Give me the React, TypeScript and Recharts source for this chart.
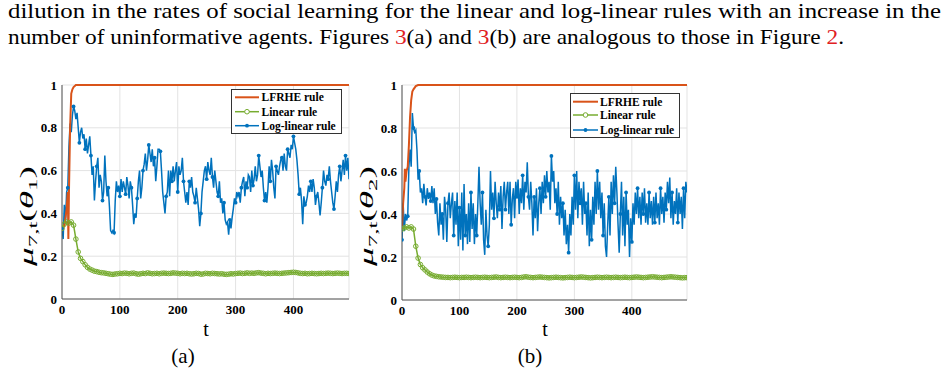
import React from 'react';
import { LineChart, Line, XAxis, YAxis, CartesianGrid } from 'recharts';

// ---------- axes ----------
const X_TICKS = [0, 100, 200, 300, 400];
const Y_TICKS = [0, 0.2, 0.4, 0.6, 0.8, 1];
const T_MAX = 496;
const LOG_STEP = 2; // t spacing of log-linear samples
const LIN_STEP = 4; // t spacing of linear samples

const SERIES_NAMES = ['LFRHE rule', 'Linear rule', 'Log-linear rule'];
const COLORS = { lfrhe: '#D95319', linear: '#77AC30', loglin: '#0072BD' };

// ---------- panel (a) ----------
const lfrheA_t = [0, 4, 8, 10, 11, 12, 14, 16, 18, 20, 24, 496];
const lfrheA_v = [0.33, 0.34, 0.42, 0.5, 0.28, 0.5, 0.8, 0.96, 0.98, 0.99, 1, 1];

const linearA = [
  0.33, 0.35, 0.36, 0.355, 0.36, 0.345, 0.28, 0.22, 0.19, 0.175,
  0.16, 0.148, 0.14, 0.135, 0.13, 0.128, 0.125, 0.123, 0.122, 0.12,
  0.118, 0.116, 0.115, 0.117, 0.118, 0.12, 0.119, 0.121, 0.12, 0.118,
  0.12, 0.121, 0.118, 0.116, 0.118, 0.12, 0.119, 0.122, 0.12, 0.118,
  0.119, 0.12, 0.118, 0.12, 0.121, 0.12, 0.119, 0.12, 0.122, 0.121,
  0.12, 0.118, 0.12, 0.119, 0.12, 0.118, 0.117, 0.118, 0.12, 0.119,
  0.116, 0.117, 0.12, 0.119, 0.118, 0.12, 0.119, 0.118, 0.117, 0.118,
  0.116, 0.115, 0.116, 0.118, 0.117, 0.119, 0.12, 0.121, 0.119, 0.12,
  0.122, 0.12, 0.121, 0.12, 0.122, 0.123, 0.121, 0.12, 0.118, 0.12,
  0.119, 0.12, 0.121, 0.12, 0.119, 0.12, 0.121, 0.122, 0.123, 0.124,
  0.125, 0.124, 0.122, 0.12, 0.119, 0.12, 0.118, 0.119, 0.12, 0.119,
  0.118, 0.119, 0.12, 0.119, 0.12, 0.121, 0.12, 0.119, 0.12, 0.121,
  0.12, 0.119, 0.12, 0.12, 0.119,
];

const loglinA = [
  0.33, 0.28, 0.44, 0.36, 0.50, 0.52, 0.71, 0.82, 0.78, 0.86,
  0.90, 0.88, 0.84, 0.87, 0.80, 0.73, 0.78, 0.80, 0.75, 0.77,
  0.70, 0.75, 0.68, 0.72, 0.76, 0.67, 0.58, 0.62, 0.46, 0.55,
  0.62, 0.66, 0.52, 0.58, 0.55, 0.46, 0.50, 0.67, 0.55, 0.48,
  0.52, 0.43, 0.32, 0.31, 0.32, 0.31, 0.46, 0.55, 0.50, 0.53,
  0.48, 0.56, 0.50, 0.55, 0.52, 0.49, 0.57, 0.53, 0.47, 0.55,
  0.52, 0.44, 0.35, 0.40, 0.38, 0.47, 0.55, 0.60, 0.47, 0.52,
  0.60, 0.63, 0.68, 0.60, 0.65, 0.72, 0.68, 0.64, 0.70, 0.62,
  0.66, 0.55, 0.62, 0.70, 0.70, 0.69, 0.60, 0.50, 0.45, 0.40,
  0.48, 0.50, 0.60, 0.48, 0.60, 0.55, 0.62, 0.55, 0.60, 0.64,
  0.50, 0.62, 0.58, 0.60, 0.66, 0.55, 0.50, 0.45, 0.50, 0.44,
  0.55, 0.52, 0.57, 0.50, 0.48, 0.45, 0.52, 0.47, 0.42, 0.34,
  0.40, 0.50, 0.55, 0.60, 0.62, 0.56, 0.64, 0.60, 0.58, 0.66,
  0.57, 0.52, 0.60, 0.55, 0.50, 0.48, 0.55, 0.45, 0.47, 0.40,
  0.45, 0.37, 0.35, 0.36, 0.30, 0.37, 0.33, 0.38, 0.42, 0.47,
  0.45, 0.50, 0.48, 0.50, 0.45, 0.52, 0.55, 0.57, 0.48, 0.55,
  0.52, 0.58, 0.57, 0.50, 0.60, 0.53, 0.56, 0.62, 0.55, 0.58,
  0.67, 0.62, 0.57, 0.60, 0.52, 0.46, 0.50, 0.45, 0.52, 0.62,
  0.55, 0.65, 0.60, 0.52, 0.47, 0.62, 0.60, 0.58, 0.62, 0.65,
  0.66, 0.60, 0.68, 0.62, 0.60, 0.70, 0.68, 0.66, 0.72, 0.70,
  0.76, 0.73, 0.70, 0.65, 0.58, 0.49, 0.52, 0.46, 0.35, 0.48,
  0.44, 0.45, 0.48, 0.53, 0.50, 0.55, 0.50, 0.56, 0.52, 0.44,
  0.48, 0.50, 0.45, 0.39, 0.45, 0.52, 0.60, 0.55, 0.53, 0.58,
  0.56, 0.62, 0.55, 0.50, 0.45, 0.42, 0.48, 0.55, 0.50, 0.58,
  0.62, 0.55, 0.60, 0.65, 0.58, 0.67, 0.60, 0.66, 0.56,
];

// ---------- panel (b) ----------
const lfrheB_t = [0, 2, 4, 5, 6, 8, 10, 12, 14, 16, 18, 20, 24, 28, 496];
const lfrheB_v = [0.33, 0.45, 0.52, 0.61, 0.55, 0.6, 0.62, 0.72, 0.85, 0.93, 0.97, 0.98, 0.995, 1, 1];

const linearB = [
  0.33, 0.335, 0.34, 0.335, 0.34, 0.33, 0.25, 0.195, 0.165, 0.15,
  0.14, 0.13, 0.122, 0.116, 0.112, 0.11, 0.108, 0.107, 0.106, 0.105,
  0.105, 0.104, 0.105, 0.106, 0.105, 0.104, 0.105, 0.105, 0.106, 0.105,
  0.104, 0.105, 0.106, 0.105, 0.104, 0.105, 0.106, 0.105, 0.104, 0.105,
  0.106, 0.107, 0.105, 0.104, 0.105, 0.106, 0.105, 0.104, 0.105, 0.106,
  0.105, 0.104, 0.105, 0.107, 0.108, 0.106, 0.105, 0.104, 0.105, 0.106,
  0.107, 0.106, 0.105, 0.104, 0.103, 0.104, 0.105, 0.106, 0.105, 0.104,
  0.103, 0.104, 0.105, 0.106, 0.105, 0.104, 0.105, 0.106, 0.107, 0.106,
  0.105, 0.104, 0.103, 0.104, 0.105, 0.106, 0.105, 0.104, 0.105, 0.106,
  0.105, 0.104, 0.105, 0.106, 0.105, 0.104, 0.105, 0.106, 0.105, 0.104,
  0.105, 0.106, 0.107, 0.106, 0.105, 0.104, 0.105, 0.106, 0.107, 0.108,
  0.107, 0.106, 0.105, 0.104, 0.105, 0.106, 0.107, 0.108, 0.107, 0.106,
  0.105, 0.104, 0.103, 0.104, 0.104,
];

const loglinB = [
  0.28, 0.45, 0.32, 0.40, 0.37, 0.39, 0.62, 0.70, 0.62, 0.87,
  0.80, 0.78, 0.79, 0.70, 0.56, 0.60, 0.50, 0.52, 0.45, 0.54,
  0.48, 0.44, 0.52, 0.47, 0.50, 0.46, 0.53, 0.45, 0.52, 0.40,
  0.47, 0.36, 0.30, 0.45, 0.35, 0.40, 0.28, 0.48, 0.42, 0.27,
  0.45, 0.50, 0.38, 0.45, 0.50, 0.30, 0.46, 0.35, 0.50, 0.25,
  0.43, 0.28, 0.50, 0.23, 0.54, 0.30, 0.40, 0.26, 0.45, 0.27,
  0.50, 0.33, 0.45, 0.26, 0.40, 0.30, 0.45, 0.62, 0.45, 0.35,
  0.50, 0.28, 0.21, 0.42, 0.30, 0.25, 0.35, 0.60, 0.42, 0.50,
  0.38, 0.55, 0.45, 0.38, 0.50, 0.42, 0.53, 0.33, 0.48, 0.55,
  0.42, 0.50, 0.55, 0.40, 0.55, 0.35, 0.47, 0.52, 0.38, 0.55,
  0.48, 0.56, 0.40, 0.52, 0.45, 0.58, 0.42, 0.55, 0.50, 0.64,
  0.48, 0.42, 0.55, 0.45, 0.30, 0.48, 0.38, 0.52, 0.32, 0.45,
  0.52, 0.40, 0.55, 0.45, 0.58, 0.48, 0.60, 0.50, 0.55, 0.42,
  0.67, 0.55, 0.60, 0.45, 0.52, 0.40, 0.55, 0.35, 0.48, 0.38,
  0.45, 0.30, 0.42, 0.26, 0.35, 0.22, 0.40, 0.30, 0.48, 0.35,
  0.58, 0.42, 0.60, 0.38, 0.55, 0.45, 0.52, 0.35, 0.55, 0.40,
  0.45, 0.30, 0.50, 0.25, 0.42, 0.28, 0.48, 0.35, 0.55, 0.40,
  0.60, 0.42, 0.55, 0.38, 0.50, 0.30, 0.45, 0.25, 0.20, 0.35,
  0.48, 0.30, 0.55, 0.40, 0.58, 0.45, 0.62, 0.50, 0.35, 0.22,
  0.40, 0.55, 0.30, 0.48, 0.25, 0.50, 0.35, 0.42, 0.20, 0.38,
  0.27, 0.45, 0.35, 0.50, 0.40, 0.52, 0.38, 0.48, 0.35, 0.50,
  0.40, 0.52, 0.36, 0.45, 0.35, 0.50, 0.38, 0.46, 0.35, 0.48,
  0.36, 0.50, 0.38, 0.45, 0.35, 0.52, 0.40, 0.48, 0.36, 0.50,
  0.42, 0.55, 0.45, 0.57, 0.38, 0.50, 0.35, 0.46, 0.40, 0.52,
  0.36, 0.50, 0.40, 0.48, 0.33, 0.52, 0.38, 0.55, 0.50,
];

// ---------- helpers ----------
const pairs = (ts: number[], vs: number[]) => ts.map((t, i) => ({ t, v: vs[i] }));
const stepped = (vs: number[], step: number) => vs.map((v, i) => ({ t: i * step, v }));

const SERIF = '"Liberation Serif", "Times New Roman", serif';
const tickStyle = { fontFamily: SERIF, fontWeight: 700, fontSize: 13, fill: '#000' };

const blueDot = (props: any) => {
  const { cx, cy, index } = props;
  if (index % 5 !== 0 || cx == null || cy == null) return <g key={`bd${index}`} />;
  return <circle key={`bd${index}`} cx={cx} cy={cy} r={1.9} fill={COLORS.loglin} stroke="none" />;
};

type LegendProps = { left: number; top: number; w: number; h: number; rows: number[]; lineX: [number, number]; textX: number };

const LegendBox = ({ left, top, w, h, rows, lineX, textX }: LegendProps) => (
  <svg width={w} height={h} style={{ position: 'absolute', left, top, display: 'block' }}>
    <rect x={0.5} y={0.5} width={w - 1} height={h - 1} fill="#fff" stroke="#333" strokeWidth={1} />
    {[COLORS.lfrhe, COLORS.linear, COLORS.loglin].map((c, i) => (
      <g key={i}>
        <line x1={lineX[0]} x2={lineX[1]} y1={rows[i]} y2={rows[i]} stroke={c} strokeWidth={i === 0 ? 2 : 1.5} />
        {i === 1 && <circle cx={(lineX[0] + lineX[1]) / 2} cy={rows[i]} r={2.3} fill="#fff" stroke={c} strokeWidth={1} />}
        {i === 2 && <circle cx={(lineX[0] + lineX[1]) / 2} cy={rows[i]} r={1.9} fill={c} />}
        <text x={textX} y={rows[i]} dy="0.35em" fontFamily={SERIF} fontWeight={700} fontSize={11.5} fill="#000">
          {SERIES_NAMES[i]}
        </text>
      </g>
    ))}
  </svg>
);

type PanelProps = {
  left: number;
  width: number;
  marginRight: number;
  marginBottom: number;
  lfrhe: { t: number; v: number }[];
  linear: { t: number; v: number }[];
  loglin: { t: number; v: number }[];
};

const Panel = (p: PanelProps) => (
  <div style={{ position: 'absolute', left: p.left, top: 0 }}>
    <LineChart
      width={p.width}
      height={320}
      margin={{ top: 85, right: p.marginRight, bottom: p.marginBottom, left: 27 }}
    >
      <CartesianGrid stroke="#e3e3e3" strokeWidth={1} />
      <XAxis
        dataKey="t"
        type="number"
        domain={[0, T_MAX]}
        ticks={X_TICKS}
        allowDataOverflow
        height={20}
        tickLine={false}
        tickSize={4}
        tickMargin={2}
        axisLine={{ stroke: '#555' }}
        tick={tickStyle}
      />
      <XAxis xAxisId="top" orientation="top" type="number" domain={[0, T_MAX]} height={0} tick={false} tickLine={false} axisLine={{ stroke: '#555' }} />
      <YAxis
        type="number"
        domain={[0, 1]}
        ticks={Y_TICKS}
        width={35}
        tickLine={false}
        tickSize={0}
        tickMargin={5}
        axisLine={{ stroke: '#555' }}
        tick={tickStyle}
      />
      <YAxis yAxisId="right" orientation="right" domain={[0, 1]} width={0} tick={false} tickLine={false} axisLine={{ stroke: '#555' }} />
      <Line data={p.loglin} dataKey="v" stroke={COLORS.loglin} strokeWidth={1.5} dot={blueDot} isAnimationActive={false} />
      <Line data={p.linear} dataKey="v" stroke={COLORS.linear} strokeWidth={1.5} dot={{ r: 2.3, fill: 'none', stroke: COLORS.linear, strokeWidth: 1 }} isAnimationActive={false} />
      <Line data={p.lfrhe} dataKey="v" stroke={COLORS.lfrhe} strokeWidth={2} dot={false} isAnimationActive={false} />
    </LineChart>
  </div>
);

const YLabel = ({ x, y, idx }: { x: number; y: number; idx: string }) => (
  <text transform={`translate(${x},${y}) rotate(-90)`} textAnchor="middle" fontFamily={SERIF} fontSize={18} fill="#000" textLength={100} lengthAdjust="spacingAndGlyphs">
    <tspan fontStyle="italic">μ</tspan>
    <tspan fontSize={12} dy={4}>7,t</tspan>
    <tspan dy={-4}>(</tspan>
    <tspan fontStyle="italic">θ</tspan>
    <tspan fontSize={12} dy={4}>{idx}</tspan>
    <tspan dy={-4}>)</tspan>
  </text>
);

export default function App() {
  const red = '#e0201f';
  return (
    <div style={{ position: 'absolute', left: 0, top: 0, width: 947, height: 374, background: '#fff', overflow: 'hidden' }}>
      <Panel
        left={0}
        width={360}
        marginRight={11}
        marginBottom={1}
        lfrhe={pairs(lfrheA_t, lfrheA_v)}
        linear={stepped(linearA, LIN_STEP)}
        loglin={stepped(loglinA, LOG_STEP)}
      />
      <Panel
        left={340}
        width={360}
        marginRight={13}
        marginBottom={0}
        lfrhe={pairs(lfrheB_t, lfrheB_v)}
        linear={stepped(linearB, LIN_STEP)}
        loglin={stepped(loglinB, LOG_STEP)}
      />
      <LegendBox left={231} top={89} w={111} h={45} rows={[8.3, 22.7, 36.7]} lineX={[4, 28]} textX={30.5} />
      <LegendBox left={570} top={93} w={110} h={45} rows={[8.7, 22, 37]} lineX={[3, 28]} textX={30} />
      <svg width={947} height={374} style={{ position: 'absolute', left: 0, top: 0, pointerEvents: 'none' }}>
        <text x={8} y={18} fontFamily={SERIF} fontSize={21} fill="#000" textLength={933} lengthAdjust="spacingAndGlyphs">
          dilution in the rates of social learning for the linear and log-linear rules with an increase in the
        </text>
        <text x={8} y={44} fontFamily={SERIF} fontSize={21} fill="#000" textLength={836} lengthAdjust="spacingAndGlyphs">
          number of uninformative agents. Figures <tspan fill={red}>3</tspan>(a) and <tspan fill={red}>3</tspan>(b) are analogous to those in Figure <tspan fill={red}>2</tspan>.
        </text>
        <YLabel x={33} y={216} idx="1" />
        <YLabel x={373} y={216} idx="2" />
        <text x={206} y={336} textAnchor="middle" fontFamily={SERIF} fontSize={20} fill="#000">t</text>
        <text x={545} y={336} textAnchor="middle" fontFamily={SERIF} fontSize={20} fill="#000">t</text>
        <text x={183} y={363} textAnchor="middle" fontFamily={SERIF} fontSize={21} fill="#000">(a)</text>
        <text x={530} y={363} textAnchor="middle" fontFamily={SERIF} fontSize={21} fill="#000">(b)</text>
      </svg>
    </div>
  );
}
